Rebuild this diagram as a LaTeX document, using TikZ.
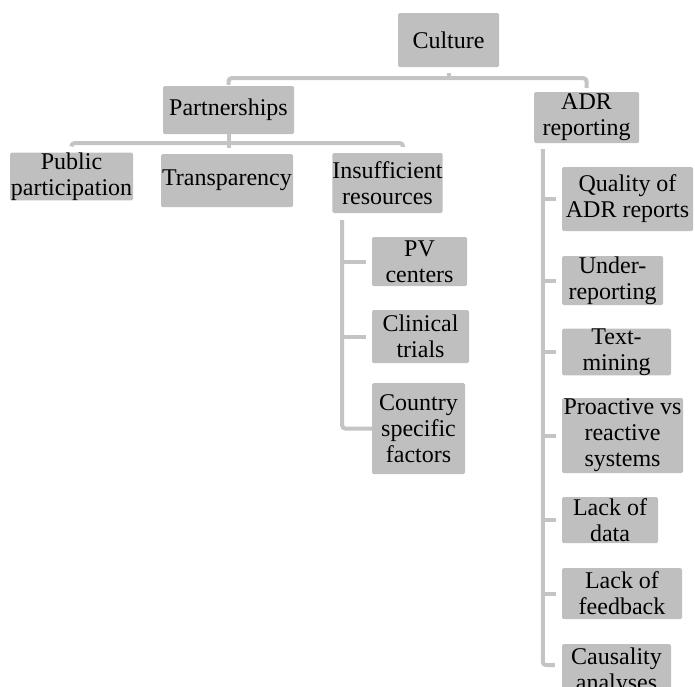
\documentclass[tikz,border=0pt]{standalone}
\usepackage{fontspec}
\setmainfont{Liberation Serif}
\usetikzlibrary{calc}
\definecolor{boxgray}{RGB}{191,191,191}
\definecolor{linegray}{RGB}{196,196,196}
\tikzset{
  box/.style={fill=boxgray, draw=none, rounded corners=1.5pt, inner sep=0pt,
    align=center, text=black, font=\fontsize{24}{26}\selectfont},
  conn/.style={draw=linegray, line width=4pt, rounded corners=3pt}
}
\begin{document}
\begin{tikzpicture}[x=1pt, y=-1pt]
\useasboundingbox (0,0) rectangle (695,686);
\clip (0,0) rectangle (695,686);

% top level
\node[box, minimum width=101pt, minimum height=54pt] (culture) at (448.5,40) {Culture};
\node[box, minimum width=131pt, minimum height=48pt] (partner) at (228.5,110) {Partnerships};
\node[box, minimum width=105pt, minimum height=51pt] (adr) at (586.5,117.5) {ADR\\reporting};

% partnerships branch
\node[box, minimum width=123pt, minimum height=47pt] (public) at (71.5,176.5) {Public\\participation};
\node[box, minimum width=132pt, minimum height=53pt] (transp) at (227,180.5) {Transparency};
\node[box, minimum width=91pt, minimum height=60pt] (insuff) at (387.5,183) {Insufficient\\resources};

% insufficient resources branch
\node[box, minimum width=95pt, minimum height=49pt] (pv) at (419.5,261.5) {PV\\centers};
\node[box, minimum width=97pt, minimum height=53pt] (clin) at (420.5,336.5) {Clinical\\trials};
\node[box, minimum width=93pt, minimum height=91pt] (country) at (418.5,428.5) {Country\\specific\\factors};

% ADR reporting branch
\node[box, minimum width=131pt, minimum height=64pt] (quality) at (627.5,199) {Quality of\\ADR reports};
\node[box, minimum width=101pt, minimum height=49pt] (under) at (612.5,280.5) {Under-\\reporting};
\node[box, minimum width=109pt, minimum height=46pt] (textm) at (616.5,352) {Text-\\mining};
\node[box, minimum width=121pt, minimum height=75pt] (proact) at (622.5,435.5) {Proactive vs\\reactive\\systems};
\node[box, minimum width=96pt, minimum height=46pt] (lackdata) at (610,520) {Lack of\\data};
\node[box, minimum width=120pt, minimum height=51pt] (lackfb) at (622,593.5) {Lack of\\feedback};
\node[box, minimum width=109pt, minimum height=56pt] (caus) at (616.5,672) {Causality\\analyses};

% connectors: culture
\draw[conn] ($(partner.north)+(0,-1)$) |- ($(culture.south)+(0,11)$) -| ($(adr.north)+(0,-4)$);
\draw[conn] ($(culture.south)+(0,6)$) -- ($(culture.south)+(0,11)$);

% connectors: partnerships
\draw[conn] ($(public.north)+(0,-6)$) |- ($(partner.south)+(0,9)$) -| ($(insuff.north)+(15.5,-6)$);
\draw[conn] (partner.south) -- ($(partner.south |- transp.north)+(0,-6)$);

% connectors: insufficient resources
\coordinate (irtop) at ($(insuff.south west)+(10,7)$);
\draw[conn] (irtop) |- (country.west);
\draw[conn] (irtop |- pv.west) -- ($(pv.west)+(-6,0)$);
\draw[conn] (irtop |- clin.west) -- ($(clin.west)+(-6,0)$);

% connectors: ADR reporting
\coordinate (adrtop) at ($(adr.south west)+(9,6)$);
\draw[conn] (adrtop) |- ($(caus.west)+(-7,-7)$);
\foreach \n in {quality,under,textm,proact,lackdata,lackfb}
  \draw[conn] (adrtop |- \n.west) -- ($(\n.west)+(-6,0)$);
\end{tikzpicture}
\end{document}
